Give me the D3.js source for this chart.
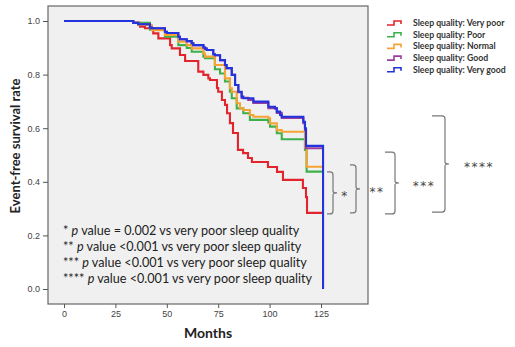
<!DOCTYPE html>
<html>
<head>
<meta charset="utf-8">
<script src="https://cdn.jsdelivr.net/npm/d3@7"></script>
<style>
  body { margin: 0; background: #fff; }
  svg { display: block; font-family: Lato, "Open Sans", sans-serif; }
</style>
</head>
<body>
<svg id="chart"></svg>
<script>
// survival curves, [month, survival] knots
var veryPoor = [[0, 1], [32.1, 1], [33.6, 0.993], [37.0, 0.979], [39.4, 0.973], [43.4, 0.954], [45.9, 0.935],
  [51.6, 0.91], [52.4, 0.898], [56.4, 0.873], [58.9, 0.851], [65.3, 0.811], [67.8, 0.799], [70.2, 0.786],
  [71.0, 0.78], [74.4, 0.75], [75.0, 0.736], [76.8, 0.705], [78.3, 0.687], [79.3, 0.656], [80.7, 0.619],
  [82.2, 0.582], [84.6, 0.519], [87.1, 0.507], [89.5, 0.489], [91.4, 0.474], [99.2, 0.455], [103.6, 0.437],
  [106.5, 0.407], [116.2, 0.377], [117.7, 0.343], [118.2, 0.284], [126, 0.284]];
var poor = [[0, 1], [29.7, 1], [33.6, 0.993], [41.8, 0.968], [49.1, 0.941], [55.6, 0.91], [59.7, 0.899],
  [62.1, 0.885], [67.8, 0.867], [68.6, 0.861], [73.4, 0.82], [75.9, 0.804], [78.3, 0.774], [80.7, 0.736],
  [81.6, 0.712], [84.0, 0.674], [87.2, 0.656], [90.4, 0.631], [99.4, 0.621], [100.2, 0.606], [103.5, 0.581],
  [105.9, 0.559], [116.4, 0.559], [117.2, 0.519], [118.0, 0.438], [126, 0.438]];
var normal = [[0, 1], [29.0, 1], [33.6, 0.993], [36.1, 0.985], [42.7, 0.966], [49.1, 0.948], [55.6, 0.923],
  [59.7, 0.91], [62.1, 0.898], [67.8, 0.879], [68.6, 0.867], [73.4, 0.836], [78.3, 0.786], [80.7, 0.749],
  [81.6, 0.736], [84.0, 0.693], [85.6, 0.674], [87.2, 0.668], [90.4, 0.649], [92.1, 0.643], [99.4, 0.637],
  [100.2, 0.618], [103.5, 0.593], [105.9, 0.587], [116.4, 0.587], [117.2, 0.531], [118.0, 0.456],
  [126, 0.456]];
var good = [[0, 1], [29.7, 1], [33.7, 0.993], [36.1, 0.988], [41.8, 0.976], [42.7, 0.973], [49.1, 0.96],
  [50.0, 0.955], [55.6, 0.941], [56.4, 0.932], [59.7, 0.925], [62.1, 0.917], [62.9, 0.91], [67.8, 0.901],
  [68.6, 0.897], [69.4, 0.892], [72.6, 0.876], [73.4, 0.872], [75.9, 0.854], [78.3, 0.836], [79.1, 0.824],
  [81.6, 0.799], [83.2, 0.761], [84.8, 0.734], [86.4, 0.713], [89.6, 0.705], [92.1, 0.694], [99.4, 0.675],
  [103.5, 0.657], [105.9, 0.638], [115.6, 0.638], [116.4, 0.619], [117.2, 0.593], [117.7, 0.525],
  [126, 0.525]];
var veryGood = [[0, 1], [29.7, 1], [33.7, 0.993], [36.1, 0.988], [41.8, 0.976], [42.7, 0.973], [49.1, 0.96],
  [50.0, 0.955], [55.6, 0.941], [56.4, 0.932], [59.7, 0.925], [62.1, 0.917], [62.9, 0.91], [67.8, 0.901],
  [68.6, 0.897], [69.4, 0.892], [72.6, 0.876], [73.4, 0.872], [75.9, 0.854], [78.3, 0.836], [79.1, 0.824],
  [81.6, 0.799], [83.2, 0.761], [84.8, 0.736], [86.4, 0.718], [87.2, 0.712], [92.1, 0.699], [99.4, 0.68],
  [102.6, 0.674], [103.5, 0.662], [105.1, 0.649], [105.9, 0.643], [115.6, 0.643], [116.4, 0.624],
  [117.2, 0.6], [117.7, 0.534], [126, 0.534], [126, 0]];

var seriesNames = ["Sleep quality: Very poor", "Sleep quality: Poor", "Sleep quality: Normal",
  "Sleep quality: Good", "Sleep quality: Very good"];
var seriesValues = [veryPoor, poor, normal, good, veryGood];
var seriesColors = ["#e2252c", "#3cb04a", "#f4a334", "#9a3d9e", "#2233dd"];

var xTicks = [0, 25, 50, 75, 100, 125];
var yTicks = [0.0, 0.2, 0.4, 0.6, 0.8, 1.0];

var notes = [
  ["*", " value = 0.002 vs very poor sleep quality"],
  ["**", " value <0.001 vs very poor sleep quality"],
  ["***", " value <0.001 vs very poor sleep quality"],
  ["****", " value <0.001 vs very poor sleep quality"]
];

// brackets: [label, top survival, bottom survival]
var brackets = [["*", 0.437, 0.28], ["**", 0.463, 0.284], ["***", 0.511, 0.28], ["****", 0.646, 0.287]];

var width = 515, height = 347;
var frame = { left: 48, top: 6, right: 368, bottom: 304 };

var svg = d3.select("#chart").attr("width", width).attr("height", height);

var xScale = d3.scaleLinear().domain([0, 125]).range([64, 321]);
var yScale = d3.scaleLinear().domain([0, 1]).range([289, 21]);

svg.append("rect")
  .attr("x", frame.left)
  .attr("y", frame.top)
  .attr("width", frame.right - frame.left)
  .attr("height", frame.bottom - frame.top)
  .attr("fill", "#f0f0f0")
  .attr("stroke", "#666")
  .attr("stroke-width", 1.2);

var yAxis = d3.axisLeft(yScale)
  .tickValues(yTicks)
  .tickFormat(d3.format(".1f"))
  .tickSize(5)
  .tickSizeOuter(0);

var yg = svg.append("g")
  .attr("transform", "translate(" + frame.left + ",0)")
  .call(yAxis);
yg.select(".domain").remove();
yg.selectAll("line").attr("stroke", "#555");
yg.selectAll("text").attr("fill", "#444").attr("font-size", 9).attr("font-family", "Liberation Sans, Arial, sans-serif");

var xAxis = d3.axisBottom(xScale)
  .tickValues(xTicks)
  .tickSize(4)
  .tickSizeOuter(0);

var xg = svg.append("g")
  .attr("transform", "translate(0," + frame.bottom + ")")
  .call(xAxis);
xg.select(".domain").remove();
xg.selectAll("line").attr("stroke", "#555");
xg.selectAll("text").attr("fill", "#444").attr("font-size", 9).attr("font-family", "Liberation Sans, Arial, sans-serif");

var line = d3.line()
  .x(function (d) { return xScale(d[0]); })
  .y(function (d) { return yScale(d[1]); })
  .curve(d3.curveStepAfter);

svg.append("g")
  .selectAll("path")
  .data(seriesValues)
  .enter()
  .append("path")
  .attr("d", line)
  .attr("fill", "none")
  .attr("stroke", function (d, i) { return seriesColors[i]; })
  .attr("stroke-width", 2.1);

// axis titles
svg.append("text")
  .attr("x", (frame.left + frame.right) / 2)
  .attr("y", 338)
  .attr("text-anchor", "middle")
  .attr("font-weight", "bold")
  .attr("font-size", 14)
  .attr("fill", "#222")
  .text("Months");

svg.append("text")
  .attr("transform", "translate(20,146) rotate(-90)")
  .attr("text-anchor", "middle")
  .attr("font-weight", "bold")
  .attr("font-size", 13)
  .attr("fill", "#222")
  .text("Event-free survival rate");

// legend
var legend = svg.append("g").attr("transform", "translate(387,23)");
var rows = legend.selectAll("g")
  .data(seriesNames)
  .enter()
  .append("g")
  .attr("transform", function (d, i) { return "translate(0," + i * 11.7 + ")"; });

rows.append("path")
  .attr("d", "M0,2H7V-2H14V1")
  .attr("fill", "none")
  .attr("stroke", function (d, i) { return seriesColors[i]; })
  .attr("stroke-width", 1.6);

rows.append("text")
  .attr("x", 26)
  .attr("y", 3)
  .attr("font-size", 8.7)
  .attr("font-weight", "bold")
  .attr("fill", "#333")
  .text(function (d) { return d; });

// p value notes
var noteText = svg.append("g");
notes.forEach(function (n, i) {
  var t = noteText.append("text")
    .attr("x", 63)
    .attr("y", 235 + i * 16)
    .attr("font-size", 12.6)
    .attr("fill", "#222");
  t.append("tspan").text(n[0] + " ");
  t.append("tspan").attr("font-style", "italic").text("p");
  t.append("tspan").text(n[1]);
});

// significance brackets
var bracketX = [[327, 333, 345], [350, 356, 377], [385, 395, 424], [432, 445, 479]];
brackets.forEach(function (b, i) {
  var x0 = bracketX[i][0], x1 = bracketX[i][1];
  var y0 = yScale(b[1]), y1 = yScale(b[2]), ym = (y0 + y1) / 2;
  var r = 3;
  var p = "M" + x0 + "," + y0 +
    "H" + (x1 - r) + "Q" + x1 + "," + y0 + " " + x1 + "," + (y0 + r) +
    "V" + (ym - 2) + "Q" + x1 + "," + ym + " " + (x1 + 4) + "," + ym +
    "Q" + x1 + "," + ym + " " + x1 + "," + (ym + 2) +
    "V" + (y1 - r) + "Q" + x1 + "," + y1 + " " + (x1 - r) + "," + y1 +
    "H" + x0;
  svg.append("path")
    .attr("d", p)
    .attr("fill", "none")
    .attr("stroke", "#777")
    .attr("stroke-width", 1.2);
  svg.append("text")
    .attr("x", bracketX[i][2])
    .attr("y", ym + 7)
    .attr("text-anchor", "middle")
    .attr("font-family", "DejaVu Sans, sans-serif")
    .attr("font-size", 12)
    .attr("letter-spacing", 1.5)
    .attr("fill", "#444")
    .text(b[0]);
});
</script>
</body>
</html>
